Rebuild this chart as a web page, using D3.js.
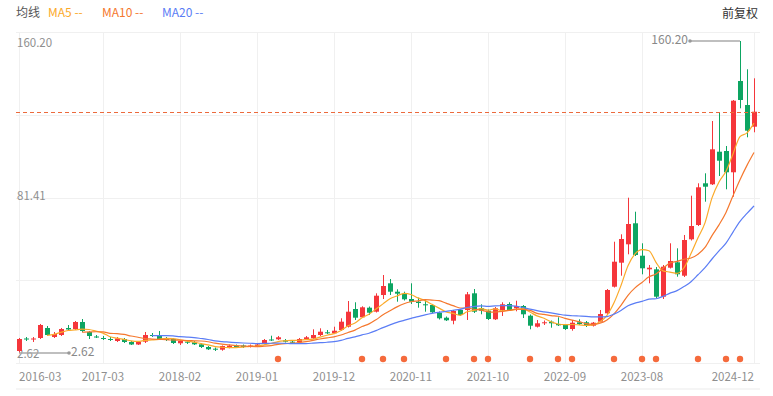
<!DOCTYPE html>
<html>
<head>
<meta charset="utf-8">
<script src="https://cdn.jsdelivr.net/npm/d3@7"></script>
<style>
  html, body { margin: 0; padding: 0; background: #fff; }
  svg text { font-family: "Noto Sans CJK SC", "Noto Sans", sans-serif; }
</style>
</head>
<body>
<svg id="chart" width="773" height="396"></svg>
<script>
// monthly candles 2016-03 .. 2024-12
const months = d3.timeMonths(new Date(2016, 2, 1), new Date(2025, 0, 1)).map(d3.timeFormat("%Y-%m"));

const open = [3.63, 9.94, 9.44, 10.2, 15.25, 10.7, 11.71, 15.25, 14.74, 18.28,
  13.23, 10.95, 10.2, 9.69, 8.68, 9.69, 8.18, 6.91, 8.33, 11.71,
  11.36, 10.2, 9.69, 7.52, 8.33, 8.02, 7.01, 5.65, 4.79, 4.29,
  5.5, 6.31, 6.41, 5.65, 6.16, 7.52, 9.44, 9.54, 9.03, 8.33,
  8.02, 9.69, 10.04, 11.71, 13.07, 12.57, 14.24, 15.9, 24.84, 20.65,
  25.5, 23.48, 31.91, 37.82, 33.58, 32.42, 29.89, 28.53, 27.22, 26.86,
  22.97, 20.45, 18.93, 24.34, 24.34, 32.77, 25.2, 23.98, 19.64, 24.34,
  27.37, 25.2, 26.36, 21.46, 15.9, 17.92, 18.43, 17.27, 16.76, 14.74,
  18.13, 18.13, 16.41, 18.43, 22.67, 36.1, 48.23, 57.52, 68.13, 51.76,
  44.89, 44.89, 31.06, 45.7, 48.43, 41.66, 60.04, 67.27, 88.33, 87.82,
  104.29, 104.64, 93.89, 140.0, 127.87, 116.92];

const close = [9.69, 9.44, 9.94, 16.76, 11.71, 12.22, 14.74, 14.49, 18.28, 13.73,
  11.21, 10.45, 9.69, 9.19, 9.94, 8.18, 6.91, 8.18, 11.71, 11.21,
  9.69, 9.19, 7.67, 8.68, 7.82, 7.01, 5.65, 4.49, 4.29, 6.16,
  6.31, 5.5, 5.65, 6.41, 6.91, 9.19, 8.94, 10.55, 8.33, 7.82,
  9.69, 10.55, 11.71, 13.38, 12.57, 13.88, 18.43, 23.48, 20.45, 25.7,
  22.97, 31.56, 36.46, 33.58, 32.57, 29.74, 28.53, 27.87, 26.71, 23.18,
  20.15, 19.14, 23.83, 21.81, 32.27, 23.48, 23.98, 19.79, 25.2, 27.22,
  24.34, 26.36, 22.17, 16.41, 17.62, 18.13, 17.62, 16.61, 14.74, 17.92,
  17.27, 16.41, 17.92, 22.32, 34.44, 48.73, 60.2, 67.77, 52.12, 45.4,
  45.7, 31.06, 46.21, 49.09, 42.37, 59.69, 66.76, 86.31, 86.61, 105.5,
  99.74, 93.89, 130.05, 130.4, 114.9, 124.49];

const high = [10.2, 10.7, 10.7, 17.27, 16.26, 13.23, 15.25, 16.76, 18.78, 19.79,
  13.73, 11.71, 11.21, 10.7, 10.7, 10.2, 8.68, 8.68, 13.23, 12.72,
  13.73, 10.7, 10.2, 9.19, 9.19, 8.68, 7.67, 6.16, 5.4, 6.41,
  6.91, 6.91, 6.91, 6.91, 7.67, 9.69, 11.36, 11.21, 9.69, 9.19,
  10.2, 11.21, 14.59, 15.09, 14.24, 15.9, 20.15, 28.88, 28.23, 26.21,
  26.1, 32.77, 42.01, 39.99, 34.79, 33.58, 37.82, 30.55, 29.74, 27.37,
  23.58, 21.05, 24.34, 24.84, 33.43, 34.94, 27.22, 24.59, 25.85, 28.23,
  28.23, 29.03, 26.86, 22.06, 19.29, 19.03, 19.03, 20.65, 17.27, 19.29,
  19.64, 18.78, 18.28, 24.34, 34.94, 58.83, 62.57, 81.06, 73.98, 58.03,
  47.06, 46.06, 47.06, 58.03, 55.5, 62.22, 82.07, 88.33, 93.38, 119.79,
  124.19, 107.17, 130.4, 160.20, 145.91, 141.36];

const low = [2.62, 8.68, 8.18, 9.69, 11.21, 10.2, 11.21, 14.24, 14.24, 13.23,
  9.69, 10.2, 9.19, 8.68, 8.18, 7.67, 6.66, 6.66, 7.67, 10.7,
  9.19, 8.68, 7.17, 6.66, 7.17, 6.66, 5.15, 4.14, 3.63, 3.78,
  4.99, 5.15, 5.15, 5.4, 5.65, 7.17, 8.68, 9.19, 7.92, 7.42,
  7.67, 9.19, 9.69, 11.21, 12.22, 12.22, 13.73, 15.5, 19.29, 20.3,
  21.81, 23.07, 29.89, 31.91, 28.53, 29.13, 27.37, 25.5, 23.48, 22.82,
  19.54, 18.78, 17.12, 21.31, 19.29, 22.82, 22.17, 19.29, 19.29, 21.31,
  23.83, 23.68, 20.3, 14.59, 15.5, 16.76, 15.4, 16.26, 14.24, 13.88,
  16.76, 15.75, 16.0, 18.02, 22.32, 35.7, 41.66, 52.47, 51.61, 42.37,
  37.82, 30.4, 29.89, 45.3, 41.16, 41.0, 59.44, 66.76, 79.04, 87.47,
  92.02, 85.3, 81.56, 126.21, 111.56, 114.09];

const tickLabels = ["2016-03", "2017-03", "2018-02", "2019-01", "2019-12",
  "2020-11", "2021-10", "2022-09", "2023-08", "2024-12"];

// months with a dividend marker
const dividendMonths = ["2019-04", "2020-04", "2020-07", "2020-10", "2021-04", "2021-08",
  "2021-10", "2022-04", "2022-08", "2022-10", "2023-04", "2023-08", "2023-10",
  "2024-04", "2024-08", "2024-10"];

const maPeriods = [5, 10, 20];
const maColors = ["#FBAA2A", "#F5782E", "#5B7DF5"];

const W = 773, H = 396;
const plot = { left: 16, right: 760, top: 32, bottom: 363 };
const red = "#F5363B", green = "#0DA562", textGray = "#8f8f8f";

const svg = d3.select("#chart");
svg.append("rect").attr("width", W).attr("height", H).attr("fill", "#fff");

const n = months.length;
const x = d3.scaleLinear().domain([0, n - 1]).range([19, 754]);
const yMin = d3.min(low), yMax = d3.max(high);
const y = d3.scaleLinear().domain([yMin, yMax]).range([353, 41]);

// grid
const grid = svg.append("g");
d3.range(5).forEach(k => {
    const gy = Math.round(plot.top + k * (plot.bottom - plot.top) / 4) + 0.5;
    grid.append("line")
        .attr("x1", plot.left).attr("x2", plot.right)
        .attr("y1", gy).attr("y2", gy)
        .style("stroke", "#f0f0f0");
});
tickLabels.forEach(t => {
    const gx = Math.round(x(months.indexOf(t))) + 0.5;
    grid.append("line")
        .attr("x1", gx).attr("x2", gx)
        .attr("y1", plot.top).attr("y2", plot.bottom)
        .style("stroke", "#f0f0f0");
});
svg.append("line")
    .attr("x1", plot.left).attr("x2", plot.right)
    .attr("y1", 389).attr("y2", 389)
    .style("stroke", "#f2f2f2").style("stroke-width", 1.5);

// legend
svg.append("text").attr("x", 16).attr("y", 14).attr("dominant-baseline", "middle")
    .style("font-size", "12px").style("fill", "#555").text("均线");
const legendX = [48, 102, 162];
maPeriods.forEach((p, k) => {
    svg.append("text").attr("x", legendX[k]).attr("y", 14).attr("dominant-baseline", "middle")
        .style("font-size", "12px").style("fill", maColors[k]).text(`MA${p} --`);
});
svg.append("text").attr("x", 758).attr("y", 15).attr("text-anchor", "end").attr("dominant-baseline", "middle")
    .style("font-size", "12px").style("fill", "#333").text("前复权");

// y labels: max, mid, min
const fmt = d3.format(".2f");
[[yMax, 44], [(yMax + yMin) / 2, 197], [yMin, 355]].forEach(([v, ty]) => {
    svg.append("text").attr("x", 17).attr("y", ty).attr("dominant-baseline", "middle")
        .style("font-size", "11.5px").style("fill", textGray).text(fmt(v));
});

// x labels
tickLabels.forEach((t, k) => {
    svg.append("text")
        .attr("x", x(months.indexOf(t)))
        .attr("y", 378)
        .attr("dominant-baseline", "middle")
        .attr("text-anchor", k == 0 ? "start" : (k == tickLabels.length - 1 ? "end" : "middle"))
        .style("font-size", "11.5px").style("fill", textGray)
        .text(t);
});

// candles
const candles = svg.append("g");
months.forEach((m, i) => {
    const up = close[i] >= open[i];
    const c = up ? red : green;
    const cx = Math.round(x(i));
    candles.append("line")
        .attr("x1", cx + 0.5).attr("x2", cx + 0.5)
        .attr("y1", y(high[i])).attr("y2", y(low[i]))
        .style("stroke", c).style("stroke-width", 1);
    const top = y(Math.max(open[i], close[i]));
    const bot = y(Math.min(open[i], close[i]));
    candles.append("rect")
        .attr("x", cx - 2).attr("y", top)
        .attr("width", 5).attr("height", Math.max(1, bot - top))
        .style("fill", c);
});

// moving averages
maPeriods.forEach((p, k) => {
    const ma = close.map((v, i) => i < p - 1 ? null : d3.mean(close.slice(i - p + 1, i + 1)));
    const line = d3.line()
        .defined(d => d != null)
        .x((d, i) => x(i))
        .y(d => y(d))
        .curve(d3.curveMonotoneX);
    svg.append("path")
        .datum(ma)
        .attr("d", line)
        .style("fill", "none")
        .style("stroke", maColors[k])
        .style("stroke-width", 1.2);
});

// latest close line
const lastY = Math.round(y(close[n - 1])) + 0.5;
svg.append("line")
    .attr("x1", plot.left).attr("x2", plot.right)
    .attr("y1", lastY).attr("y2", lastY)
    .style("stroke", "#EC6A3C").style("stroke-dasharray", "4,3");

// max / min markers
const iMax = high.indexOf(yMax), iMin = low.indexOf(yMin);
function marker(i, v, dir) {
    const x0 = x(i), x1 = x0 + dir * 50, yy = y(v);
    svg.append("line").attr("x1", x0).attr("x2", x1).attr("y1", yy).attr("y2", yy)
        .style("stroke", "#aaa").style("stroke-width", 1.5);
    svg.append("circle").attr("cx", x1).attr("cy", yy).attr("r", 1.8).style("fill", "#999");
    svg.append("text").attr("x", x1 + dir * 2).attr("y", yy)
        .attr("text-anchor", dir < 0 ? "end" : "start").attr("dominant-baseline", "middle")
        .style("font-size", "12px").style("fill", "#888").text(fmt(v));
}
marker(iMax, yMax, -1);
marker(iMin, yMin, 1);

// dividend dots
svg.append("g").selectAll("circle")
    .data(dividendMonths)
    .enter()
    .append("circle")
    .attr("cx", d => x(months.indexOf(d)))
    .attr("cy", 359)
    .attr("r", 3.2)
    .style("fill", "#F56A3C");
</script>
</body>
</html>
